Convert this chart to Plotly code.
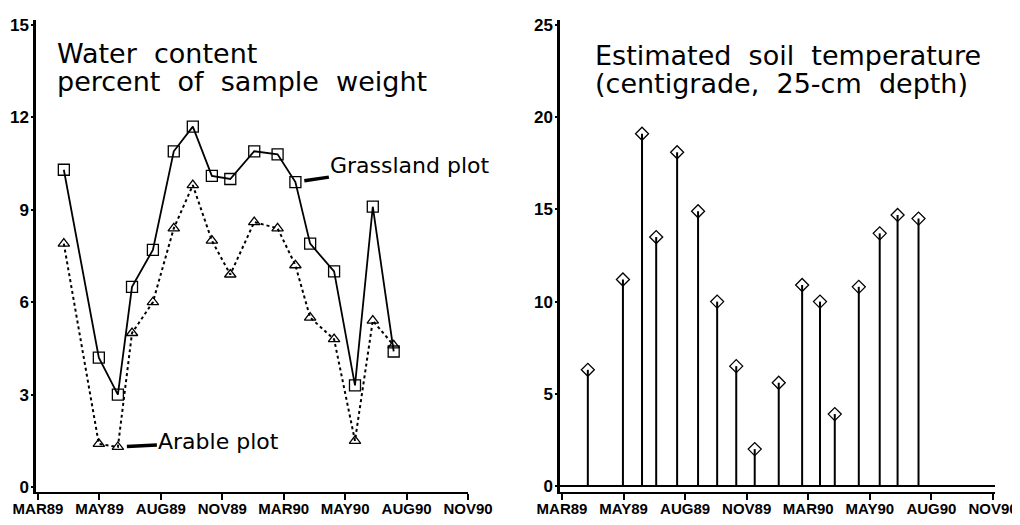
import plotly.graph_objects as go

# ---- data ----
tick_labels = ["MAR89", "MAY89", "AUG89", "NOV89", "MAR90", "MAY90", "AUG90", "NOV90"]
tick_pos = list(range(len(tick_labels)))

# sampling dates expressed in axis tick units (0 = MAR89 tick, 7 = NOV90 tick)
sample_pos = [0.42, 0.99, 1.30, 1.53, 1.87, 2.21, 2.52, 2.83, 3.13,
              3.52, 3.90, 4.19, 4.43, 4.82, 5.16, 5.45, 5.79]

grassland = [10.3, 4.2, 3.0, 6.5, 7.7, 10.9, 11.7, 10.1, 10.0,
             10.9, 10.8, 9.9, 7.9, 7.0, 3.3, 9.1, 4.4]
arable = [7.9, 1.4, 1.3, 5.0, 6.0, 8.4, 9.8, 8.0, 6.9,
          8.6, 8.4, 7.2, 5.5, 4.8, 1.5, 5.4, 4.6]
soil_temp = [6.3, 11.2, 19.1, 13.5, 18.1, 14.9, 10.0, 6.5, 2.0,
             5.6, 10.9, 10.0, 3.9, 10.8, 13.7, 14.7, 14.5]

left_yticks = [0, 3, 6, 9, 12, 15]
right_yticks = [0, 5, 10, 15, 20, 25]

# page body has an 8px margin: figure is drawn 8px in from the window edges
OX, OY = 8, 8
W, H = 1012, 517
NB = "\u00a0"


def fx(px):
    return (px - OX) / W


def fy(py):
    return (H - (py - OY)) / H


fig = go.Figure()

# Left panel: water content
fig.add_trace(go.Scatter(
    x=sample_pos, y=arable, mode="lines+markers", name="Arable plot",
    line=dict(color="black", width=2, dash="dot"),
    marker=dict(symbol="triangle-up-open", size=10, color="black", line=dict(width=1.3)),
    xaxis="x", yaxis="y", showlegend=False))
fig.add_trace(go.Scatter(
    x=sample_pos, y=grassland, mode="lines+markers", name="Grassland plot",
    line=dict(color="black", width=1.8),
    marker=dict(symbol="square-open", size=11, color="black", line=dict(width=1.3)),
    xaxis="x", yaxis="y", showlegend=False))

# Right panel: soil temperature stems (error bars down to zero)
fig.add_trace(go.Scatter(
    x=sample_pos, y=soil_temp, mode="markers", name="Soil temperature",
    marker=dict(symbol="diamond-open", size=10, color="black", line=dict(width=1.3)),
    error_y=dict(type="data", symmetric=False, array=[0] * len(soil_temp),
                 arrayminus=soil_temp, color="black", thickness=2, width=0),
    xaxis="x2", yaxis="y2", showlegend=False))

font_fam = "Liberation Sans, Arial, sans-serif"
tick_font = dict(family=font_fam, size=15, color="black", weight="bold")
ytick_font = dict(family=font_fam, size=17, color="black", weight="bold")

xcommon = dict(tickmode="array", tickvals=tick_pos, ticktext=tick_labels,
               ticks="outside", ticklen=6, tickwidth=1.5, tickcolor="black",
               showline=True, linecolor="black", linewidth=2,
               showgrid=False, zeroline=False, tickfont=tick_font,
               ticklabelstandoff=-4, automargin=False, fixedrange=True)
ycommon = dict(tickmode="array", ticks="outside", ticklen=2, tickwidth=1.5,
               tickcolor="black", showline=True, linecolor="black",
               linewidth=2.5, showgrid=False, tickfont=ytick_font,
               ticklabelstandoff=-1, automargin=False, fixedrange=True)

ydom = [fy(492), fy(20)]

fig.update_layout(
    width=W, height=H,
    margin=dict(l=0, r=0, t=0, b=0, autoexpand=False),
    paper_bgcolor="white", plot_bgcolor="white",
    xaxis=dict(domain=[fx(36), fx(468)], range=[-0.033, 7.0], anchor="y", **xcommon),
    yaxis=dict(domain=ydom, range=[-0.162, 15.162], tickvals=left_yticks,
               anchor="x", zeroline=False, **ycommon),
    xaxis2=dict(domain=[fx(560), fx(995)], range=[-0.032, 7.032], anchor="y2", **xcommon),
    yaxis2=dict(domain=ydom, range=[-0.325, 25.27], tickvals=right_yticks,
                anchor="x2", zeroline=True, zerolinecolor="black", zerolinewidth=2,
                **ycommon),
)

title_font = dict(family="DejaVu Sans, sans-serif", size=27, color="black")
titles = [
    ("Water" + NB + NB + "content", 56, 54),
    ("percent" + NB + NB + "of" + NB + NB + "sample" + NB + NB + "weight", 56, 82),
    ("Estimated" + NB + NB + "soil" + NB + NB + "temperature", 594, 55),
    ("(centigrade," + NB + NB + "25-cm" + NB + NB + "depth)", 594, 84),
]
for txt, px, py in titles:
    fig.add_annotation(text=txt, x=fx(px), y=fy(py), xref="paper", yref="paper",
                       xanchor="left", yanchor="middle", showarrow=False, font=title_font,
                       borderpad=0)

label_font = dict(family="DejaVu Sans, sans-serif", size=22, color="black")
# Grassland label pointing at the 12th sample
gi = 11
fig.add_annotation(text="Grassland plot", x=sample_pos[gi], y=grassland[gi], xref="x", yref="y",
                   showarrow=True, arrowhead=0, arrowwidth=3.5, arrowcolor="black",
                   ax=115, ay=-17, standoff=9, font=label_font)
# Arable label pointing at the 3rd sample
ai = 2
fig.add_annotation(text="Arable plot", x=sample_pos[ai], y=arable[ai], xref="x", yref="y",
                   showarrow=True, arrowhead=0, arrowwidth=3.5, arrowcolor="black",
                   ax=101, ay=-5, standoff=9, font=label_font)

fig.write_html("out.html")
